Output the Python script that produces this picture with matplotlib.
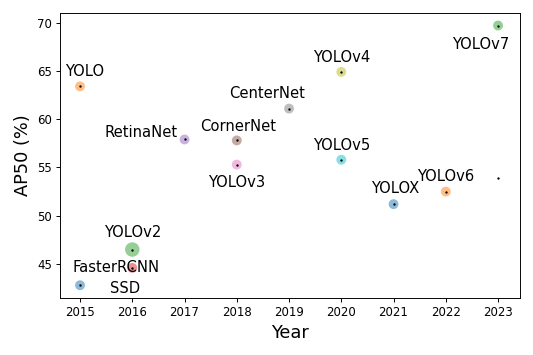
import matplotlib
matplotlib.use("Agg")
import matplotlib.pyplot as plt

# detectors, year of release and AP50 on COCO
names = ["SSD", "YOLO", "YOLOv2", "FasterRCNN", "RetinaNet", "CornerNet", "YOLOv3",
         "CenterNet", "YOLOv4", "YOLOv5", "YOLOX", "YOLOv6", "YOLOv7", ""]
years = [2015, 2015, 2016, 2016, 2017, 2018, 2018, 2019, 2020, 2020, 2021, 2022, 2023, 2023]
ap50 = [42.8, 63.4, 46.5, 44.6, 57.9, 57.8, 55.3, 61.1, 64.9, 55.8, 51.2, 52.5, 69.7, 53.9]
sizes = [70, 70, 150, 70, 70, 70, 70, 70, 70, 70, 70, 70, 70, 0]

# label offsets in points (dx, dy) from each point
offsets = [(38, -3), (4, 13), (0, 14), (-14, 0), (-37, 6), (1, 12), (0, -15),
           (-19, 13), (0, 12), (0, 12), (1, 13), (0, 13), (-15, -16), (0, 0)]

colors = ["C%d" % (i % 10) for i in range(len(names))]

fig = plt.figure(figsize=(533 / 85, 355 / 85), dpi=85)
ax = fig.add_axes([0.1126, 0.1606, 0.863, 0.8028])

ax.scatter(years, ap50, s=sizes, c=colors, alpha=0.5, linewidths=0)
ax.scatter(years, ap50, s=4, c="k", linewidths=0)

for name, x, y, off in zip(names, years, ap50, offsets):
    if name:
        ax.annotate(name, (x, y), xytext=off, textcoords="offset points",
                    ha="center", va="center", fontsize=12.5)

ax.set_xlim(2014.617, 2023.42)
ax.set_ylim(41.48, 71.0)
ax.set_xticks(range(2015, 2024))
ax.set_yticks([45, 50, 55, 60, 65, 70])
ax.tick_params(labelsize=10)
ax.set_xlabel("Year", fontsize=15)
ax.set_ylabel("AP50 (%)", fontsize=15)

fig.savefig("out.png", dpi=85)
